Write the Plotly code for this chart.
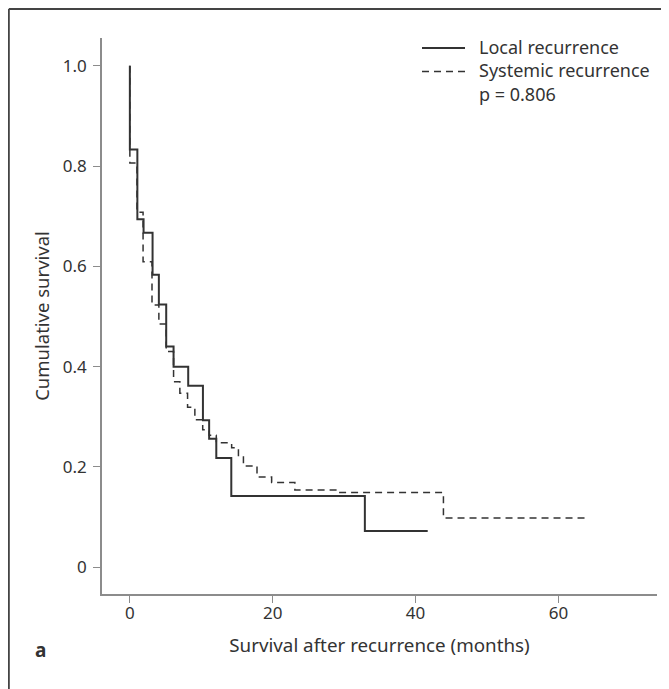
import plotly.graph_objects as go

# Kaplan-Meier step data (months, cumulative survival)
local_t = [0, 0, 1.05, 1.92, 3.18, 4.06, 5.09, 6.12, 8.17, 10.23, 11.1, 12.1, 14.2, 32.9, 41.7]
local_s = [1.0, 0.833, 0.694, 0.667, 0.583, 0.524, 0.440, 0.400, 0.362, 0.293, 0.256, 0.218, 0.142, 0.072, 0.072]

sys_t = [0, 0, 1.0, 1.85, 3.1, 4.06, 5.09, 6.12, 7.0, 8.08, 9.1, 10.2, 11.1, 12.1, 14.25, 15.2, 15.9,
         17.8, 19.85, 23.1, 29.0, 43.9, 63.7]
sys_s = [1.0, 0.806, 0.708, 0.609, 0.523, 0.485, 0.430, 0.370, 0.347, 0.319, 0.294, 0.274, 0.263,
         0.248, 0.238, 0.220, 0.202, 0.180, 0.169, 0.154, 0.149, 0.098, 0.098]

x_ticks = [0, 20, 40, 60]
y_ticks = [0, 0.2, 0.4, 0.6, 0.8, 1.0]
y_tick_text = ["0", "0.2", "0.4", "0.6", "0.8", "1.0"]

series_names = ["Local recurrence", "Systemic recurrence"]
p_text = "p = 0.806"

FONT = "Noto Sans"
TXT = "#333333"
AX = "#8c8c8c"
LINE = "#333333"
DASH = "7px,5px"

# page is rendered with an 8px body margin; compensate so the figure fills the window
OFF = 8
W, H = 669 - OFF, 689 - OFF
PL, PT, PR, PB = 102, 38, 657, 594          # plot area in window pixels


def xp(px):
    return (px - PL) / (PR - PL)


def yp(py):
    return (PB - py) / (PB - PT)


fig = go.Figure()
fig.add_trace(go.Scatter(x=sys_t, y=sys_s, mode="lines", line_shape="hv",
                         name=series_names[1], showlegend=False,
                         line=dict(color=LINE, width=1.5, dash=DASH)))
fig.add_trace(go.Scatter(x=local_t, y=local_s, mode="lines", line_shape="hv",
                         name=series_names[0], showlegend=False,
                         line=dict(color=LINE, width=2)))

fig.update_layout(
    width=W, height=H,
    margin=dict(l=PL - OFF, r=W - (PR - OFF), t=PT - OFF, b=H - (PB - OFF), autoexpand=False),
    paper_bgcolor="white", plot_bgcolor="white",
    font=dict(family=FONT, size=16, color=TXT),
    xaxis=dict(range=[-3.9, 73.8], tickvals=x_ticks, showline=True, linecolor=AX, linewidth=1.5,
               ticks="outside", ticklen=7, tickcolor=AX, tickwidth=1.2, showgrid=False,
               zeroline=False, ticklabelstandoff=-4, automargin=False,
               tickfont=dict(size=17, family=FONT, color=TXT),
               title=dict(text="Survival after recurrence (months)", standoff=16,
                          font=dict(size=18.8, family=FONT, color=TXT))),
    yaxis=dict(range=[-0.0534, 1.0553], tickvals=y_ticks, ticktext=y_tick_text, showline=True,
               linecolor=AX, linewidth=1.5, ticks="outside", ticklen=7, tickcolor=AX, tickwidth=1.2,
               showgrid=False, zeroline=False, ticklabelstandoff=3, automargin=False,
               tickfont=dict(size=17, family=FONT, color=TXT),
               title=dict(text="Cumulative survival", standoff=8,
                          font=dict(size=18.5, family=FONT, color=TXT))),
)

# legend drawn as line samples + one multi-line label block
LEG_FS = 18
row_gap = 1.3 * LEG_FS
mid_row = 70.5
legend_rows = [mid_row - row_gap, mid_row]
for row, dash, width in zip(legend_rows, ["solid", DASH], [2, 1.5]):
    fig.add_shape(type="line", xref="paper", yref="paper", x0=xp(422), x1=xp(465),
                  y0=yp(row + 1), y1=yp(row + 1), line=dict(color=LINE, width=width, dash=dash))
fig.add_annotation(text="<br>".join(series_names + [p_text]), xref="paper", yref="paper",
                   x=xp(477), y=yp(mid_row), xanchor="left", yanchor="middle", align="left",
                   showarrow=False, font=dict(size=LEG_FS, family=FONT, color=TXT))
fig.add_annotation(text="<b>a</b>", xref="paper", yref="paper", x=xp(40), y=yp(650),
                   xanchor="center", yanchor="middle", showarrow=False,
                   font=dict(size=19, family=FONT, color=TXT))

# frame lines (top and left)
fig.add_shape(type="line", xref="paper", yref="paper", x0=xp(8.8), x1=xp(669),
              y0=yp(9), y1=yp(9), line=dict(color="#444444", width=2))
fig.add_shape(type="line", xref="paper", yref="paper", x0=xp(8.8), x1=xp(8.8),
              y0=yp(9), y1=yp(689), line=dict(color="#444444", width=2))

fig.write_html("out.html")
